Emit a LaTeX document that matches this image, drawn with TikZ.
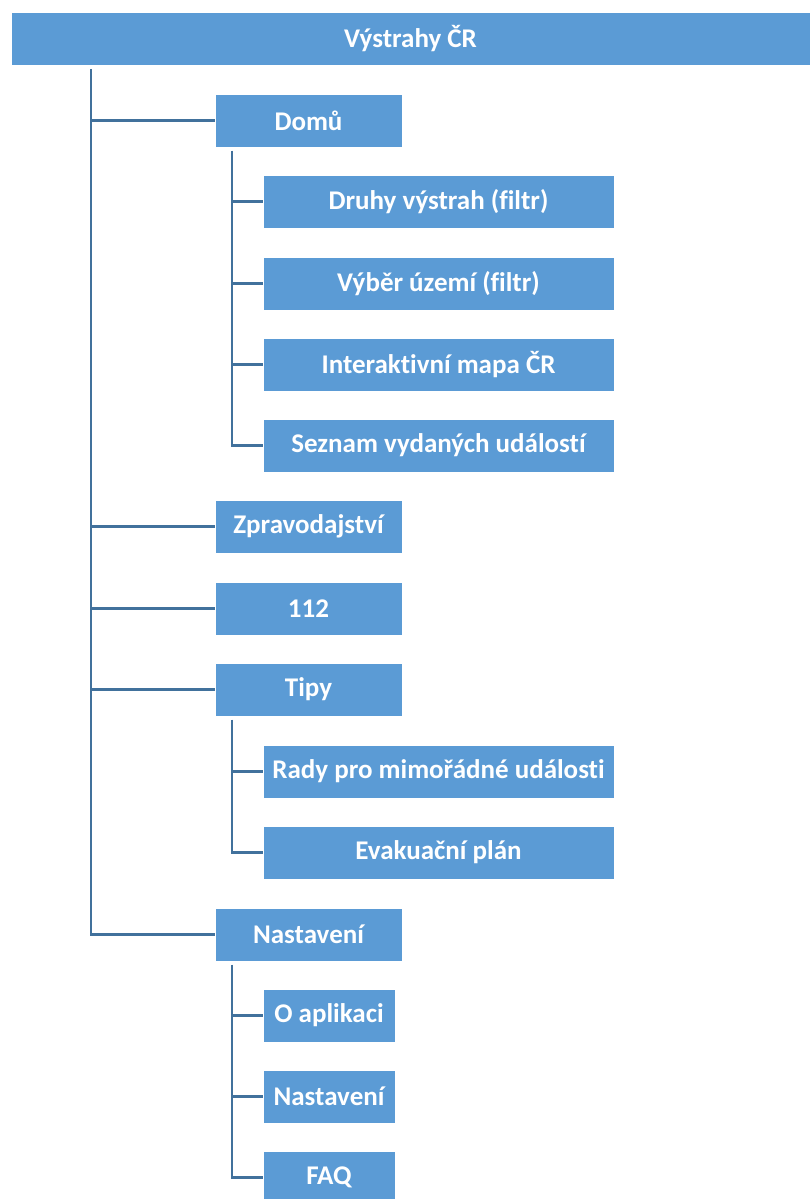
\documentclass[tikz,border=0pt]{standalone}
\usepackage{fontspec}
\setmainfont[Ligatures=NoCommon]{Carlito}
\definecolor{boxblue}{HTML}{5B9BD5}
\definecolor{linkblue}{HTML}{41719C}
\tikzset{
  box/.style={draw=white, line width=1pt, fill=boxblue, text=white,
    font=\bfseries\fontsize{27}{32}\selectfont, minimum height=53, inner sep=0pt},
  topbox/.style={box, minimum width=799},
  lvlone/.style={box, minimum width=187},
  lvltwo/.style={box, minimum width=351},
  lvlthree/.style={box, minimum width=132},
  link/.style={draw=linkblue, line width=2.5pt},
}
\begin{document}
\begin{tikzpicture}[x=1pt,y=-1pt]
  \useasboundingbox (0,0) rectangle (810,1199);
  \node[topbox] (top) at (410.5,39) {Výstrahy ČR};
  % first level
  \node[lvlone] (domu) at (308.5,120.5) {Domů};
  \node[lvlone] (zprav) at (308.5,526.5) {Zpravodajství};
  \node[lvlone] (tel) at (308.5,608.5) {112};
  \node[lvlone] (tipy) at (308.5,689.5) {Tipy};
  \node[lvlone] (nast) at (308.5,934.5) {Nastavení};
  % second level
  \node[lvltwo] (druhy) at (438.5,201.5) {Druhy výstrah (filtr)};
  \node[lvltwo] (vyber) at (438.5,283.5) {Výběr území (filtr)};
  \node[lvltwo] (mapa) at (438.5,364.5) {Interaktivní mapa ČR};
  \node[lvltwo] (seznam) at (438.5,445.5) {Seznam vydaných událostí};
  \node[lvltwo] (rady) at (438.5,771.5) {Rady pro mimořádné události};
  \node[lvltwo] (evak) at (438.5,852.5) {Evakuační plán};
  \node[lvlthree] (oapl) at (329,1015.5) {O aplikaci};
  \node[lvlthree] (nastb) at (329,1096.5) {Nastavení};
  \node[lvlthree] (faq) at (329,1177.5) {FAQ};
  \coordinate (trunk) at (91,0);
  \coordinate (sub) at (232,0);
  \begin{scope}
    \draw[link] ([yshift=-3pt]top.south -| trunk) |- (nast.west);
    \draw[link] (trunk |- domu) -- (domu.west);
    \draw[link] (trunk |- zprav) -- (zprav.west);
    \draw[link] (trunk |- tel) -- (tel.west);
    \draw[link] (trunk |- tipy) -- (tipy.west);
    \draw[link] ([yshift=-3pt]domu.south -| sub) |- (seznam.west);
    \draw[link] (sub |- druhy) -- (druhy.west);
    \draw[link] (sub |- vyber) -- (vyber.west);
    \draw[link] (sub |- mapa) -- (mapa.west);
    \draw[link] ([yshift=-3pt]tipy.south -| sub) |- (evak.west);
    \draw[link] (sub |- rady) -- (rady.west);
    \draw[link] ([yshift=-3pt]nast.south -| sub) |- (faq.west);
    \draw[link] (sub |- oapl) -- (oapl.west);
    \draw[link] (sub |- nastb) -- (nastb.west);
  \end{scope}
\end{tikzpicture}
\end{document}
